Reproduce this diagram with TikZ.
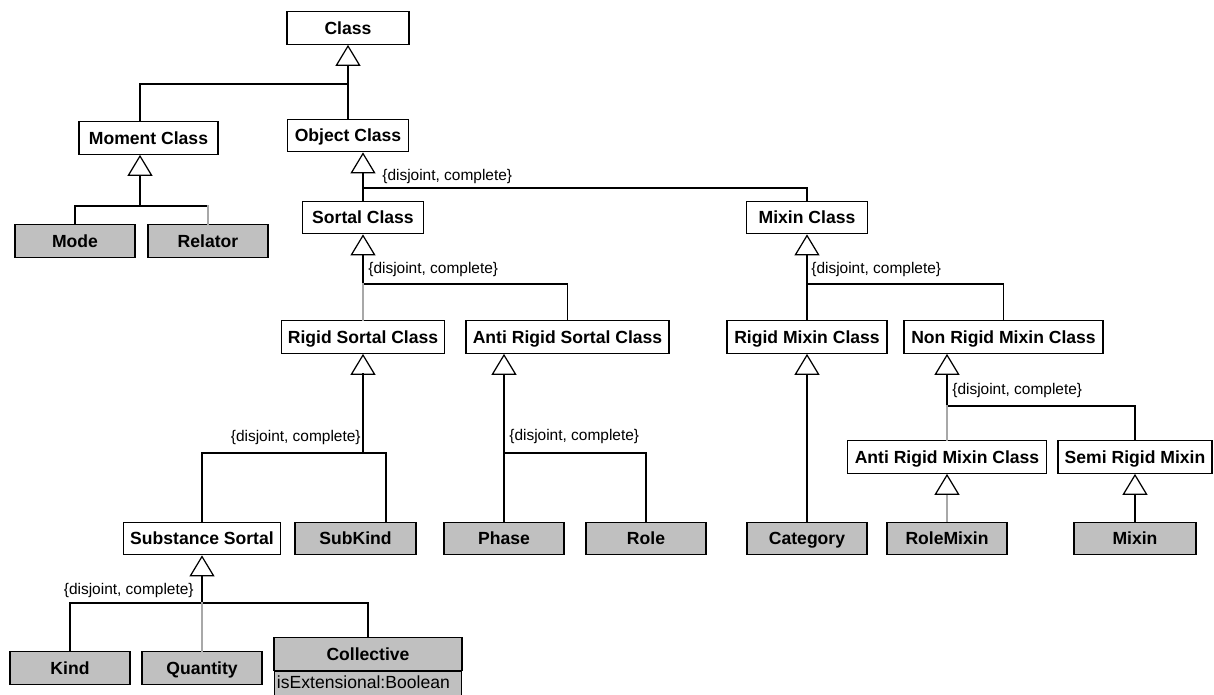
\documentclass[tikz,border=0pt]{standalone}
\usepackage{fontspec}
\setmainfont{Liberation Sans}
\usetikzlibrary{arrows.meta,positioning}
\definecolor{leafgray}{RGB}{192,192,192}
\definecolor{linegray}{RGB}{168,168,168}
\tikzset{
  cls/.style={draw, line width=0.7pt, fill=white, minimum height=0.65cm, inner sep=0pt,
    text height=7.2pt, text depth=0pt, font=\bfseries\fontsize{10}{12}\selectfont},
  leaf/.style={cls, fill=leafgray},
  boxw/.style={minimum width=#1*0.02cm},
  attr/.style={draw, line width=0.7pt, fill=leafgray, text width=103.6pt, inner xsep=1.5pt,
    inner ysep=0pt, text height=0.35cm, text depth=0.35cm, align=left,
    font=\fontsize{10}{12}\selectfont},
  gs/.style={inner sep=0pt, font=\fontsize{8.8}{10}\selectfont},
  tri/.style={-{Triangle[open, length=0.42cm, width=0.5cm, line width=0.7pt, color=black]}},
  inh/.style={line width=0.7pt, tri},
  inhgray/.style={line width=0.7pt, draw=linegray, tri},
  lightline/.style={line width=0.7pt, draw=linegray}
}
\begin{document}
\begin{tikzpicture}[x=0.02cm, y=-0.02cm, line cap=rect]
  \useasboundingbox (0,0) rectangle (1214,695);
  \clip (0,0) rectangle (1214,695);

  % Classes
  \node[cls, boxw=122] (class) at (348,28) {Class};
  \node[cls, boxw=139] (moment) at (148.5,138) {Moment Class};
  \node[cls, boxw=121] (object) at (348,135.5) {Object Class};
  \node[leaf, boxw=120] (mode) at (75,241) {Mode};
  \node[leaf, boxw=120] (relator) at (208,241) {Relator};
  \node[cls, boxw=121] (sortal) at (363,217.5) {Sortal Class};
  \node[cls, boxw=121] (mixin) at (807,217.5) {Mixin Class};
  \node[cls, boxw=163] (rigidsortal) at (363,337) {Rigid Sortal Class};
  \node[cls, boxw=203] (antisortal) at (567.5,337) {Anti Rigid Sortal Class};
  \node[cls, boxw=160] (rigidmixin) at (807,337) {Rigid Mixin Class};
  \node[cls, boxw=199] (nonrigidmixin) at (1003.5,337) {Non Rigid Mixin Class};
  \node[cls, boxw=199] (antimixin) at (947,457) {Anti Rigid Mixin Class};
  \node[cls, boxw=154] (semimixin) at (1135,457) {Semi Rigid Mixin};

  % Leaves
  \node[cls, boxw=157] (substance) at (202,538.5) {Substance Sortal};
  \node[leaf, boxw=121] (subkind) at (355.5,538.5) {SubKind};
  \node[leaf, boxw=120] (phase) at (504,538.5) {Phase};
  \node[leaf, boxw=120] (role) at (646,538.5) {Role};
  \node[leaf, boxw=120] (category) at (807,538.5) {Category};
  \node[leaf, boxw=120] (rolemixin) at (947,538.5) {RoleMixin};
  \node[leaf, boxw=122] (mixinleaf) at (1135,538.5) {Mixin};
  \node[leaf, boxw=120] (kind) at (70,668) {Kind};
  \node[leaf, boxw=120] (quantity) at (202,668) {Quantity};
  \node[leaf, boxw=188] (collective) at (368,654) {Collective};
  \node[attr, anchor=north] (colattr) at (collective.south) {isExtensional:Boolean};

  % Junctions of the generalization sets
  \coordinate (jCls) at (348,84);
  \coordinate (jMom) at (140,206);
  \coordinate (jObj) at (363,188);
  \coordinate (jSor) at (363,284);
  \coordinate (jMix) at (807,284);
  \coordinate (jRig) at (363,453);
  \coordinate (jAnt) at (504,453);
  \coordinate (jNon) at (947,406);
  \coordinate (jSub) at (202,603);

  % Generalizations
  \draw[inh] (object.north) -- (class.south);
  \draw[line width=0.7pt] (jCls) -| (moment.north -| jMom);

  \draw[inh] (jMom) -- (moment.south -| jMom);
  \draw[line width=0.7pt] (mode.north) |- (jMom) -- (jMom -| relator.north);
  \draw[lightline] (jMom -| relator.north) -- (relator.north);

  \draw[inh] (jObj) -- (object.south -| jObj);
  \draw[line width=0.7pt] (sortal.north) -- (jObj) -| (mixin.north);

  \draw[inh] (jSor) -- (sortal.south);
  \draw[line width=0.7pt] (jSor) -| (antisortal.north);
  \draw[lightline] (jSor) -- (rigidsortal.north);

  \draw[inh] (jMix) -- (mixin.south);
  \draw[line width=0.7pt] (rigidmixin.north) -- (jMix) -| (nonrigidmixin.north);

  \draw[inh, line width=1.3pt] (jRig) -- (rigidsortal.south);
  \draw[line width=0.7pt] (substance.north) |- (jRig) -| ([xshift=0.61cm]subkind.north);

  \draw[inh] (jAnt) -- (jAnt |- antisortal.south);
  \draw[line width=0.7pt] (phase.north) |- (jAnt) -| (role.north);

  \draw[inh] (category.north) -- (rigidmixin.south);

  \draw[inh] (jNon) -- (jNon |- nonrigidmixin.south);
  \draw[line width=0.7pt] (jNon) -| (semimixin.north);
  \draw[lightline] (jNon) -- (antimixin.north);
  \draw[inhgray] (rolemixin.north) -- (antimixin.south);
  \draw[inh] (mixinleaf.north) -- (semimixin.south);

  \draw[inh] (jSub) -- (substance.south);
  \draw[line width=0.7pt] (kind.north) |- (jSub) -| (collective.north);
  \draw[lightline] (jSub) -- (quantity.north);

  % Constraint labels
  \node[gs, anchor=west] (gsObj) at (382,177) {\{disjoint, complete\}};
  \node[gs, anchor=west] (gsSor) at (368,270) {\{disjoint, complete\}};
  \node[gs, anchor=west] (gsMix) at (811,270) {\{disjoint, complete\}};
  \node[gs, anchor=east] (gsRig) at (361,438) {\{disjoint, complete\}};
  \node[gs, anchor=west] (gsAnt) at (509,437) {\{disjoint, complete\}};
  \node[gs, anchor=west] (gsNon) at (952,391) {\{disjoint, complete\}};
  \node[gs, anchor=east] (gsSub) at (194,591) {\{disjoint, complete\}};
\end{tikzpicture}
\end{document}
